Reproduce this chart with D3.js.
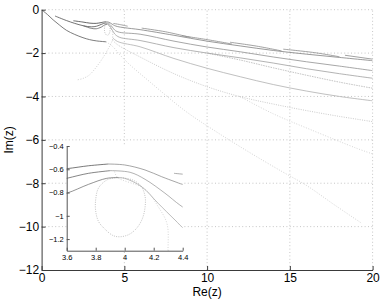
<!DOCTYPE html>
<html>
<head>
<meta charset="utf-8">
<script src="https://cdn.jsdelivr.net/npm/d3@7/dist/d3.min.js"></script>
<style>
    body { margin: 0; background: #fff; }
    svg { display: block; font-family: "Liberation Sans", Arial, sans-serif; }
</style>
</head>
<body>
<div id="chart"></div>
<script>
// Tick values
var xTicks = [0, 5, 10, 15, 20];
var yTicks = [0, -2, -4, -6, -8, -10, -12];
var insetXTicks = [3.6, 3.8, 4, 4.2, 4.4];
var insetYTicks = [-0.4, -0.6, -0.8, -1, -1.2];

// Paths in the complex plane, [Re(z), Im(z)]
var originCurve = [[0, 0], [0.35, -0.22], [0.7, -0.47], [1.1, -0.72], [1.5, -0.95], [2.0, -1.14], [2.5, -1.29], [2.9, -1.38], [3.33, -1.44], [3.9, -1.48]];
var steepCurve = [[3.9, -1.48], [4.3, -1.7], [4.74, -2.09], [5.35, -2.55], [6.5, -3.3], [8.7, -4.68], [10.5, -5.6], [12.5, -6.55], [14.5, -7.45], [16, -8.1], [17.7, -9.0], [19.35, -9.85]];

var leftTop = [[1.92, -0.51], [2.5, -0.57], [2.92, -0.62], [3.3, -0.63], [3.6, -0.595], [3.75, -0.57], [3.887, -0.555]];
var leftMid = [[0.81, -0.29], [1.5, -0.5], [2.0, -0.63], [2.52, -0.74], [3.0, -0.79], [3.33, -0.76], [3.6, -0.678], [3.75, -0.635], [3.9, -0.612]];
var leftLow = [[2.52, -0.74], [3.0, -0.86], [3.3, -0.88], [3.45, -0.85], [3.6, -0.806], [3.75, -0.73], [3.876, -0.678], [3.956, -0.672]];

var right1 = [[3.887, -0.555], [4.0, -0.563], [4.14, -0.606], [4.255, -0.664], [4.347, -0.707], [4.4, -0.73], [4.6, -0.78], [5, -0.83], [5.95, -0.92], [8, -1.18], [10, -1.45], [12, -1.67], [14, -1.88], [16, -2.05], [18, -2.2], [20, -2.35]];
var right2 = [[3.9, -0.612], [4.037, -0.626], [4.14, -0.686], [4.278, -0.806], [4.38, -0.907], [4.45, -0.96], [4.7, -1.04], [5.95, -1.13], [8, -1.45], [10, -1.72], [12, -1.94], [14, -2.18], [16, -2.4], [18, -2.6], [20, -2.81]];
var right3 = [[3.956, -0.672], [4.0, -0.678], [4.117, -0.75], [4.23, -0.892], [4.347, -1.036], [4.42, -1.12], [4.7, -1.27], [5.95, -1.42], [8, -1.75], [10, -2.0], [12, -2.22], [14, -2.46], [16, -2.72], [18, -2.95], [20, -3.16]];
var right4 = [[4.3, -1.3], [4.6, -1.47], [5.95, -1.71], [8, -2.25], [10, -2.7], [12, -3.09], [14, -3.45], [16, -3.75], [18, -4.0], [20, -4.2]];
var right5 = [[10, -2.0], [12, -2.32], [14, -2.68], [16, -3.02], [18, -3.34], [20, -3.62]];
var right6 = [[4.28, -1.4], [4.6, -1.62], [6, -2.2], [8, -2.95], [10, -3.55], [12, -4.01], [14, -4.35], [16, -4.65], [18, -4.92], [20, -5.16]];
var right7 = [[12, -4.01], [14, -4.8], [16.32, -5.55], [19.04, -6.39], [20, -6.65]];

var topSegments = [
    [[4.34, -0.635], [4.7, -0.68], [5.2, -0.76]],
    [[6.05, -0.85], [7.5, -1.02], [9, -1.28]],
    [[8.47, -1.2], [10, -1.38], [11.5, -1.58]],
    [[11.38, -1.5], [13, -1.68], [14.5, -1.9]],
    [[14.6, -1.82], [16.5, -1.98], [18, -2.17]],
    [[18.33, -2.1], [20, -2.28]]
];

var downCurve = [[3.93, -0.62], [3.95, -0.67], [4.14, -0.77], [4.23, -0.92], [4.29, -1.06], [4.3, -1.21], [4.28, -1.4], [4.13, -1.65], [3.8, -2.1], [3.4, -2.55], [2.9, -3.0], [2.5, -3.17], [2.12, -3.24]];
var loopCurve = [[3.95, -0.67], [3.88, -0.69], [3.82, -0.76], [3.8, -0.86], [3.8, -0.96], [3.82, -1.05], [3.86, -1.11], [3.92, -1.17], [3.97, -1.18], [4.03, -1.16], [4.08, -1.11], [4.12, -1.03], [4.14, -0.93], [4.14, -0.83], [4.11, -0.74], [4.05, -0.69], [3.95, -0.67]];

// Line table: data + look
var lines = [
    { data: steepCurve, color: "#c8c8c8", dash: "1,1.6" },
    { data: downCurve, color: "#c4c4c4", dash: "1,1.6" },
    { data: right7, color: "#cacaca", dash: "1,1.6" },
    { data: right6, color: "#bdbdbd", dash: "1,1.3" },
    { data: right4, color: "#b0b0b0", dash: null },
    { data: right5, color: "#b4b4b4", dash: "1.5,1" },
    { data: loopCurve, color: "#a8a8a8", dash: "1,1.3" },
    { data: right3, color: "#a0a0a0", dash: null },
    { data: right2, color: "#909090", dash: null },
    { data: right1, color: "#808080", dash: null },
    { data: originCurve, color: "#5a5a5a", dash: null },
    { data: leftLow, color: "#666666", dash: null },
    { data: leftMid, color: "#505050", dash: null },
    { data: leftTop, color: "#404040", dash: null }
];
topSegments.forEach(function (s) { lines.push({ data: s, color: "#8a8a8a", dash: null }); });

var width = 382, height = 300;

var svg = d3.select("#chart").append("svg")
    .attr("width", width)
    .attr("height", height);

// Main axes
var x = d3.scaleLinear().domain([0, 20]).range([41.6, 372.6]);
var y = d3.scaleLinear().domain([-12, 0]).range([270, 9.7]);

function minus(v) { return v < 0 ? "\u2212" + Math.abs(v) : "" + v; }

// grid
svg.append("g").selectAll("line.gx")
    .data(xTicks.filter(d => d !== 0))
    .enter().append("line")
    .attr("x1", d => x(d)).attr("x2", d => x(d))
    .attr("y1", y(-12)).attr("y2", y(0))
    .attr("stroke", "#b8b8b8").attr("stroke-width", 0.8)
    .attr("stroke-dasharray", "1,2.4");

svg.append("g").selectAll("line.gy")
    .data(yTicks.filter(d => d !== -12))
    .enter().append("line")
    .attr("x1", x(0)).attr("x2", x(20))
    .attr("y1", d => y(d)).attr("y2", d => y(d))
    .attr("stroke", "#b8b8b8").attr("stroke-width", 0.8)
    .attr("stroke-dasharray", "1,2.4");

svg.append("clipPath").attr("id", "mainClip")
    .append("rect")
    .attr("x", x(0)).attr("y", y(0))
    .attr("width", x(20) - x(0)).attr("height", y(-12) - y(0));

var lineFree = d3.line().x(d => x(d[0])).y(d => y(d[1])).curve(d3.curveCatmullRom);

var mainG = svg.append("g").attr("clip-path", "url(#mainClip)");
mainG.selectAll("path")
    .data(lines)
    .enter().append("path")
    .attr("d", d => lineFree(d.data))
    .attr("fill", "none")
    .attr("stroke", d => d.color)
    .attr("stroke-width", 0.8)
    .attr("stroke-dasharray", d => d.dash);

// axis lines
var axisColor = "#3a3a3a";
var xAxis = d3.axisBottom(x).tickValues(xTicks).tickSizeInner(-4).tickSizeOuter(0).tickPadding(3);
var yAxis = d3.axisLeft(y).tickValues(yTicks).tickSizeInner(-4).tickSizeOuter(0).tickPadding(2.5).tickFormat(minus);

var gx = svg.append("g").attr("transform", "translate(0," + y(-12) + ")").call(xAxis);
var gy = svg.append("g").attr("transform", "translate(" + x(0) + ",0)").call(yAxis);
[gx, gy].forEach(function (g) {
    g.select(".domain").attr("stroke", axisColor);
    g.selectAll(".tick line").attr("stroke", axisColor);
    g.selectAll(".tick text").attr("fill", "#000").style("font-size", "12px")
        .style("font-family", "'Liberation Sans', Arial, sans-serif");
});

svg.append("text")
    .attr("x", (x(0) + x(20)) / 2).attr("y", 295.5)
    .attr("text-anchor", "middle")
    .style("font-size", "12px")
    .text("Re(z)");

svg.append("text")
    .attr("transform", "translate(13," + ((y(0) + y(-12)) / 2) + ") rotate(-90)")
    .attr("text-anchor", "middle")
    .style("font-size", "12px")
    .text("Im(z)");

// Inset axes
var ix = d3.scaleLinear().domain([3.6, 4.4]).range([66.7, 182.7]);
var iy = d3.scaleLinear().domain([-1.3, -0.4]).range([250.7, 146]);

svg.append("rect")
    .attr("x", ix(3.6)).attr("y", iy(-0.4))
    .attr("width", ix(4.4) - ix(3.6)).attr("height", iy(-1.3) - iy(-0.4))
    .attr("fill", "#fff");

svg.append("clipPath").attr("id", "insetClip")
    .append("rect")
    .attr("x", ix(3.6)).attr("y", iy(-0.4))
    .attr("width", ix(4.4) - ix(3.6)).attr("height", iy(-1.3) - iy(-0.4));

var insetLine = d3.line().x(d => ix(d[0])).y(d => iy(d[1])).curve(d3.curveCatmullRom);

svg.append("g").attr("clip-path", "url(#insetClip)")
    .selectAll("path")
    .data(lines)
    .enter().append("path")
    .attr("d", d => insetLine(d.data))
    .attr("fill", "none")
    .attr("stroke", d => d.color)
    .attr("stroke-width", 0.7)
    .attr("stroke-dasharray", d => d.dash);

var ixAxis = d3.axisBottom(ix).tickValues(insetXTicks).tickSizeInner(-3).tickSizeOuter(0).tickPadding(4).tickFormat(d3.format("~g"));
var iyAxis = d3.axisLeft(iy).tickValues(insetYTicks).tickSizeInner(-3).tickSizeOuter(0).tickPadding(3).tickFormat(d3.format("~g"));

var gix = svg.append("g").attr("transform", "translate(0," + iy(-1.3) + ")").call(ixAxis);
var giy = svg.append("g").attr("transform", "translate(" + ix(3.6) + ",0)").call(iyAxis);
[gix, giy].forEach(function (g) {
    g.select(".domain").attr("stroke", "#555");
    g.selectAll(".tick line").attr("stroke", "#555");
    g.selectAll(".tick text").attr("fill", "#000").style("font-size", "7.5px")
        .style("font-family", "'Liberation Sans', Arial, sans-serif");
});
</script>
</body>
</html>
